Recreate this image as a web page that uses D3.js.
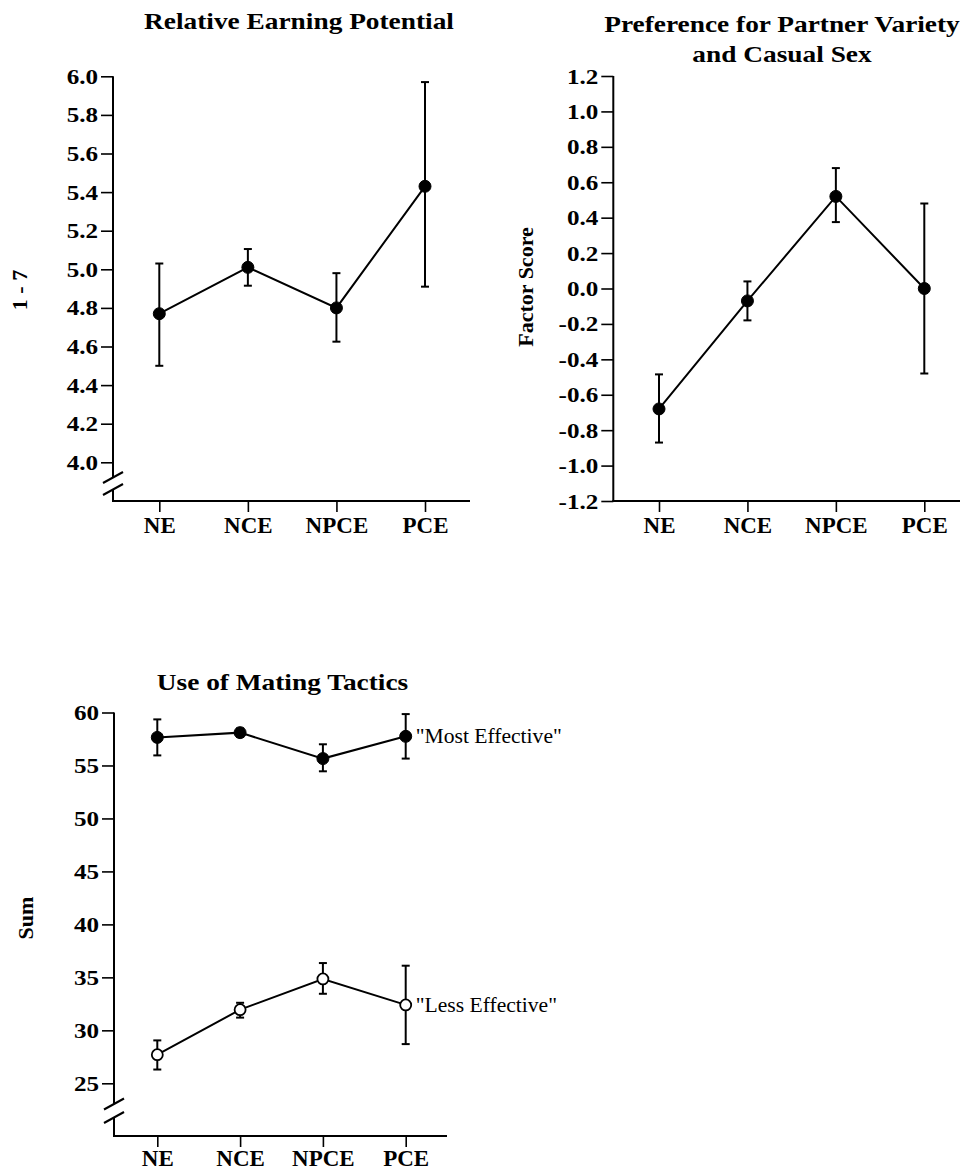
<!DOCTYPE html>
<html>
<head>
<meta charset="utf-8">
<script src="https://cdn.jsdelivr.net/npm/d3@7"></script>
<style>
  html, body { margin: 0; padding: 0; background: #fff; }
  svg { display: block; }
  text { font-family: "Liberation Serif", "Times New Roman", serif; fill: #000; }
</style>
</head>
<body>
<svg id="chart" width="960" height="1173"></svg>
<script>
// ---------- data ----------
const categories = ["NE", "NCE", "NPCE", "PCE"];

// Relative Earning Potential (1 - 7)
const earningMean = [4.77, 5.01, 4.80, 5.43];
const earningLow  = [4.50, 4.915, 4.625, 4.91];
const earningHigh = [5.03, 5.105, 4.98, 5.97];
const earningTicks = [4.0, 4.2, 4.4, 4.6, 4.8, 5.0, 5.2, 5.4, 5.6, 5.8, 6.0];
const earningTickLabels = ["4.0", "4.2", "4.4", "4.6", "4.8", "5.0", "5.2", "5.4", "5.6", "5.8", "6.0"];

// Preference for Partner Variety and Casual Sex (Factor Score)
const varietyMean = [-0.68, -0.07, 0.52, 0.00];
const varietyLow  = [-0.87, -0.18, 0.375, -0.48];
const varietyHigh = [-0.485, 0.04, 0.68, 0.48];
const varietyTicks = [-1.2, -1.0, -0.8, -0.6, -0.4, -0.2, 0.0, 0.2, 0.4, 0.6, 0.8, 1.0, 1.2];
const varietyTickLabels = ["-1.2", "-1.0", "-0.8", "-0.6", "-0.4", "-0.2", "0.0", "0.2", "0.4", "0.6", "0.8", "1.0", "1.2"];

// Use of Mating Tactics (Sum)
const mostMean = [57.65, 58.1, 55.65, 57.75];
const mostLow  = [55.95, 57.7, 54.45, 55.65];
const mostHigh = [59.35, 58.5, 57.0, 59.85];
const lessMean = [27.7, 31.95, 34.85, 32.4];
const lessLow  = [26.3, 31.2, 33.45, 28.7];
const lessHigh = [29.05, 32.6, 36.35, 36.1];
const tacticTicks = [25, 30, 35, 40, 45, 50, 55, 60];
const tacticTickLabels = ["25", "30", "35", "40", "45", "50", "55", "60"];

// ---------- drawing ----------
const svg = d3.select("#chart");
const SX = 1.14; // horizontal stretch of the scanned glyphs
const FONT = '"Liberation Serif", "Times New Roman", serif';

function label(g, x, y, s, o) {
  o = o || {};
  return g.append("text")
    .attr("transform", `translate(${x},${y})` + (o.rot ? ` rotate(${o.rot})` : ` scale(${o.sx || SX},1)`))
    .attr("text-anchor", o.anchor || "middle")
    .attr("font-size", o.size || 21)
    .attr("font-weight", o.weight || "bold")
    .text(s);
}

function panel(cfg) {
  const g = svg.append("g");
  const x = d3.scalePoint().domain(categories).range(cfg.xRange);
  const y = d3.scaleLinear().domain(cfg.yDomain).range(cfg.yRange);

  // y axis ticks + labels
  const ya = g.append("g").attr("transform", `translate(${cfg.axisX},0)`)
    .call(d3.axisLeft(y).tickValues(cfg.ticks).tickFormat((d, i) => cfg.tickLabels[i]).tickSize(12).tickPadding(3));
  ya.select(".domain").remove();
  ya.selectAll(".tick line").attr("stroke", "#000").attr("stroke-width", 1.6);
  ya.selectAll(".tick text")
    .attr("x", null)
    .attr("transform", `translate(-15,0) scale(${SX},1)`)
    .attr("font-size", 22).attr("font-weight", "bold")
    .attr("font-family", FONT)
    .attr("fill", "#000");

  // y axis line (with optional break)
  const top = y(cfg.yDomain[1]);
  if (cfg.breakY) {
    const [b1, b2] = cfg.breakY;
    g.append("line").attr("x1", cfg.axisX).attr("x2", cfg.axisX).attr("y1", top).attr("y2", b1)
      .attr("stroke", "#000").attr("stroke-width", 2);
    g.append("line").attr("x1", cfg.axisX).attr("x2", cfg.axisX).attr("y1", b2).attr("y2", cfg.axisY)
      .attr("stroke", "#000").attr("stroke-width", 2);
    [b1, b2].forEach(b => {
      g.append("line").attr("x1", cfg.axisX - 10).attr("y1", b + 5.5).attr("x2", cfg.axisX + 10).attr("y2", b - 5.5)
        .attr("stroke", "#000").attr("stroke-width", 2);
    });
  } else {
    g.append("line").attr("x1", cfg.axisX).attr("x2", cfg.axisX).attr("y1", top).attr("y2", cfg.axisY)
      .attr("stroke", "#000").attr("stroke-width", 2);
  }

  // x axis
  const xa = g.append("g").attr("transform", `translate(0,${cfg.axisY})`)
    .call(d3.axisBottom(x).tickSize(11).tickPadding(cfg.xPad));
  xa.select(".domain").remove();
  xa.selectAll(".tick line").attr("stroke", "#000").attr("stroke-width", 1.6);
  xa.selectAll(".tick text")
    .attr("font-size", 23).attr("font-weight", "bold")
    .attr("font-family", FONT)
    .attr("fill", "#000");
  g.append("line").attr("x1", cfg.axisX - 1).attr("x2", cfg.xEnd).attr("y1", cfg.axisY).attr("y2", cfg.axisY)
    .attr("stroke", "#000").attr("stroke-width", 2);

  // series
  cfg.series.forEach(s => {
    const pts = categories.map((c, i) => ({ c, m: s.mean[i], lo: s.low[i], hi: s.high[i] }));
    g.append("path").datum(pts)
      .attr("d", d3.line().x(d => x(d.c)).y(d => y(d.m)))
      .attr("fill", "none").attr("stroke", "#000").attr("stroke-width", 2);
    const eb = g.append("g").selectAll("g").data(pts).join("g");
    eb.append("line").attr("x1", d => x(d.c)).attr("x2", d => x(d.c))
      .attr("y1", d => y(d.lo)).attr("y2", d => y(d.hi))
      .attr("stroke", "#000").attr("stroke-width", 2);
    ["lo", "hi"].forEach(k => {
      eb.append("line").attr("x1", d => x(d.c) - 4).attr("x2", d => x(d.c) + 4)
        .attr("y1", d => y(d[k])).attr("y2", d => y(d[k]))
        .attr("stroke", "#000").attr("stroke-width", 2);
    });
    eb.append("circle").attr("cx", d => x(d.c)).attr("cy", d => y(d.m))
      .attr("r", s.open ? 5.5 : 6)
      .attr("fill", s.open ? "#fff" : "#000")
      .attr("stroke", "#000").attr("stroke-width", s.open ? 1.8 : 1);
    if (s.name) {
      label(g, x(categories[3]) + 10, y(s.mean[3]) + 7, s.name,
        { anchor: "start", size: 20, weight: "normal", sx: 1.08 });
    }
  });

  // titles & y label
  cfg.title.forEach((t, i) => label(g, cfg.titleX, cfg.titleY + i * 29.5, t, { size: 24 }));
  label(g, cfg.yLabelX, cfg.yLabelY, cfg.yLabel, { rot: -90, size: cfg.yLabelSize });
}

panel({
  xRange: [159.3, 425], yDomain: [4.0, 6.0], yRange: [462.3, 76.3],
  axisX: 113, axisY: 501, xEnd: 470, xPad: 5, breakY: [477.5, 489.5],
  ticks: earningTicks, tickLabels: earningTickLabels,
  series: [{ mean: earningMean, low: earningLow, high: earningHigh }],
  title: ["Relative Earning Potential"], titleX: 299, titleY: 29,
  yLabel: "1 - 7", yLabelX: 27, yLabelY: 290, yLabelSize: 22
});

panel({
  xRange: [659, 924.3], yDomain: [-1.2, 1.2], yRange: [501, 76],
  axisX: 613.3, axisY: 501, xEnd: 965, xPad: 5,
  ticks: varietyTicks, tickLabels: varietyTickLabels,
  series: [{ mean: varietyMean, low: varietyLow, high: varietyHigh }],
  title: ["Preference for Partner Variety", "and Casual Sex"], titleX: 782, titleY: 32,
  yLabel: "Factor Score", yLabelX: 533, yLabelY: 287, yLabelSize: 22
});

panel({
  xRange: [157.3, 405.7], yDomain: [25, 60], yRange: [1083.3, 712.5],
  axisX: 114, axisY: 1136, xEnd: 447, xPad: 3, breakY: [1104, 1117.5],
  ticks: tacticTicks, tickLabels: tacticTickLabels,
  series: [
    { mean: mostMean, low: mostLow, high: mostHigh, name: "\"Most Effective\"" },
    { mean: lessMean, low: lessLow, high: lessHigh, name: "\"Less Effective\"", open: true }
  ],
  title: ["Use of Mating Tactics"], titleX: 282.5, titleY: 690,
  yLabel: "Sum", yLabelX: 33, yLabelY: 918, yLabelSize: 22
});
</script>
</body>
</html>
